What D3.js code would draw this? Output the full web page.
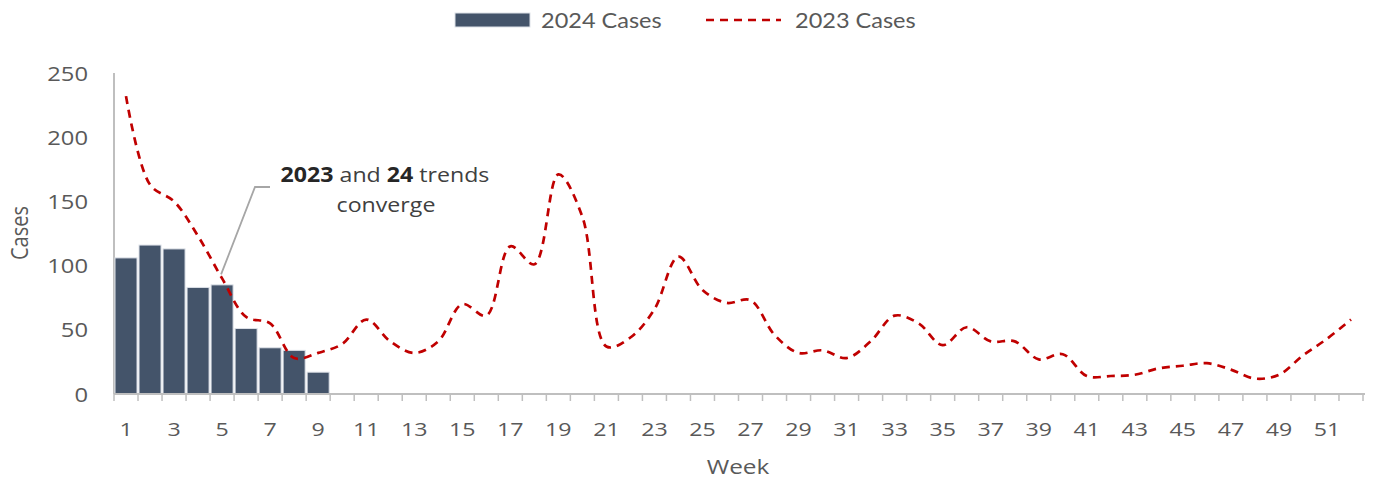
<!DOCTYPE html>
<html>
<head>
<meta charset="utf-8">
<script src="https://cdn.jsdelivr.net/npm/d3@7"></script>
<style>
  html, body { margin: 0; padding: 0; background: #fff; }
  svg { display: block; }
</style>
</head>
<body>
<svg id="chart" width="1374" height="479"></svg>
<script>
// Weekly case counts
const weeks = d3.range(1, 53);
const weeks2024 = d3.range(1, 10);
const cases2024 = [106, 116, 113, 83, 85, 51, 36, 34, 17];
const cases2023 = [
  232, 163, 150, 123, 90, 60, 55, 28, 32, 39,
  58, 41, 32, 41, 70, 61, 115, 101, 171, 138,
  37, 44, 66, 107, 81, 71, 73, 46, 32, 34,
  28, 41, 61, 55, 38, 52, 41, 41, 27, 31,
  14, 14, 15, 20, 22, 24, 19, 12, 15, 30,
  43, 58
];
const yTicks = [0, 50, 100, 150, 200, 250];
const xTickLabels = weeks.filter(w => w % 2 === 1);
const seriesNames = ["2024 Cases", "2023 Cases"];

const BAR = "#44546a";
const LINE = "#c00000";
const AXIS = "#bfbfbf";
const TEXT = "#595959";
const FONT = "'Open Sans', 'Noto Sans', sans-serif";
const SX = 1.22; // horizontal text stretch

const svg = d3.select("#chart");

const x = d3.scaleBand().domain(weeks).range([114, 1363]).padding(0);
const y = d3.scaleLinear().domain([0, 250]).range([394, 73]);
const bw = x.bandwidth();
const cx = w => x(w) + bw / 2;

function stretchedText(g, tx, ty, str, opts = {}) {
  const t = g.append("text")
    .attr("transform", `translate(${tx},${ty}) scale(${opts.sx || SX},1)`)
    .attr("text-anchor", opts.anchor || "middle")
    .attr("dominant-baseline", "central")
    .style("font-family", opts.font || FONT)
    .style("font-size", (opts.size || 19) + "px")
    .style("fill", opts.fill || TEXT);
  if (str != null) t.text(str);
  return t;
}

// Y axis line and labels
svg.append("line")
  .attr("x1", 114).attr("x2", 114)
  .attr("y1", y(250)).attr("y2", y(0))
  .attr("stroke", AXIS).attr("stroke-width", 2);

const yLab = svg.append("g");
yTicks.forEach(v => stretchedText(yLab, 88, y(v), String(v), { anchor: "end", size: 19.5 }));

// Bars (2024)
svg.append("g").selectAll("rect")
  .data(weeks2024.map((w, i) => ({ w, v: cases2024[i] })))
  .join("rect")
  .attr("x", d => x(d.w) + 1)
  .attr("width", bw - 2)
  .attr("y", d => y(d.v))
  .attr("height", d => y(0) - y(d.v))
  .attr("fill", BAR)
  .attr("stroke", "#dde1e8")
  .attr("stroke-width", 1);

// X axis line, ticks at category boundaries, labels
svg.append("line")
  .attr("x1", 114).attr("x2", x(52) + bw + 2)
  .attr("y1", y(0)).attr("y2", y(0))
  .attr("stroke", AXIS).attr("stroke-width", 2);

svg.append("g").selectAll("line")
  .data(weeks.concat([53]))
  .join("line")
  .attr("x1", w => w === 53 ? x(52) + bw : x(w))
  .attr("x2", w => w === 53 ? x(52) + bw : x(w))
  .attr("y1", y(0)).attr("y2", y(0) + 7)
  .attr("stroke", AXIS).attr("stroke-width", 1.5);

const xLab = svg.append("g");
xTickLabels.forEach(w => stretchedText(xLab, cx(w), 428, String(w), { size: 19 }));

// 2023 line (smoothed, dashed)
const line = d3.line()
  .x((d, i) => cx(weeks[i]))
  .y(d => y(d))
  .curve(d3.curveCatmullRom.alpha(0.5));

svg.append("path")
  .datum(cases2023)
  .attr("d", line)
  .attr("fill", "none")
  .attr("stroke", LINE)
  .attr("stroke-width", 2.7)
  .attr("stroke-dasharray", "8,6");

// Axis titles
stretchedText(svg, 738, 466, "Week", { size: 20 });
svg.append("text")
  .attr("transform", `translate(19,233) rotate(-90) scale(1,1.15)`)
  .attr("text-anchor", "middle")
  .attr("dominant-baseline", "central")
  .style("font-family", FONT)
  .style("font-size", "20px")
  .style("fill", TEXT)
  .text("Cases");

// Annotation
const ann = svg.append("g");
const a1 = stretchedText(ann, 385, 174, null, { size: 20.5, fill: "#404040", sx: 1.13 });
a1.append("tspan").style("font-weight", 700).style("fill", "#262626").text("2023");
a1.append("tspan").text(" and ");
a1.append("tspan").style("font-weight", 700).style("fill", "#262626").text("24");
a1.append("tspan").text(" trends");
stretchedText(ann, 386, 204, "converge", { size: 20.5, fill: "#404040", sx: 1.13 });

const tipX = cx(5) - 1, tipY = y(cases2023[4]) - 4;
ann.append("polyline")
  .attr("points", `270,187 255,187 ${tipX},${tipY}`)
  .attr("fill", "none")
  .attr("stroke", "#a6a6a6")
  .attr("stroke-width", 1.8);

// Legend
const leg = svg.append("g");
leg.append("rect")
  .attr("x", 455).attr("y", 13).attr("width", 75).attr("height", 14)
  .attr("fill", BAR).attr("stroke", "#dde1e8").attr("stroke-width", 1);
stretchedText(leg, 541, 20, seriesNames[0], { anchor: "start", size: 21, font: "Lato, 'Open Sans', sans-serif", sx: 1.12 });
leg.append("line")
  .attr("x1", 706).attr("x2", 781).attr("y1", 20).attr("y2", 20)
  .attr("stroke", LINE).attr("stroke-width", 2.7)
  .attr("stroke-dasharray", "8,6");
stretchedText(leg, 795, 20, seriesNames[1], { anchor: "start", size: 21, font: "Lato, 'Open Sans', sans-serif", sx: 1.12 });
</script>
</body>
</html>
